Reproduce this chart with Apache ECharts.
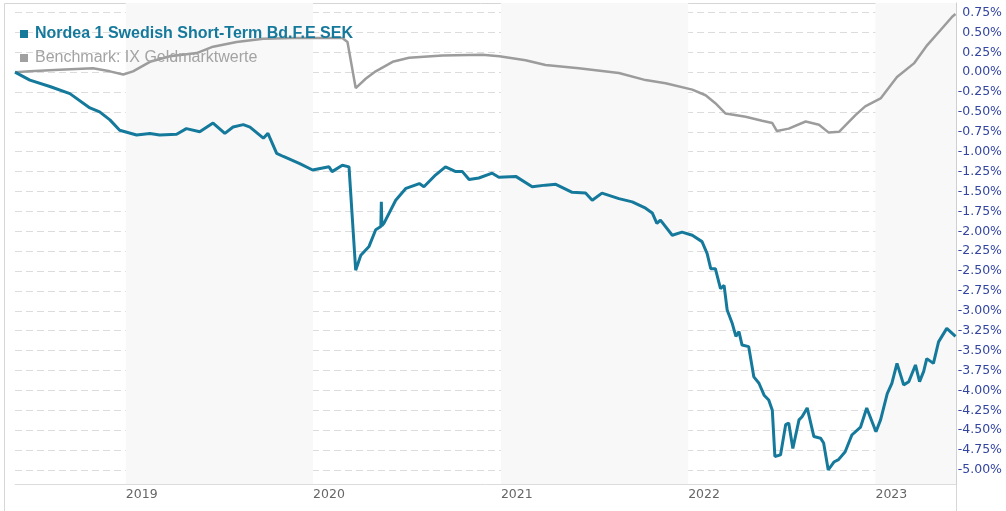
<!DOCTYPE html>
<html>
<head>
<meta charset="utf-8">
<style>
  html, body { margin: 0; padding: 0; background: #fff; }
  #chart { width: 1006px; height: 511px; }
</style>
<script src="https://cdn.jsdelivr.net/npm/echarts@6/dist/echarts.min.js"></script>
</head>
<body>
<div id="chart"></div>
<script>
// 数据（从图上读取，单位：%）
const fundName = 'Nordea 1 Swedish Short-Term Bd.F.E SEK';
const benchName = 'Benchmark: IX Geldmarktwerte';

const fundDates = [
    '2018-05-30', '2018-06-28', '2018-08-06', '2018-09-14', '2018-10-23', '2018-11-11', '2018-12-01', '2018-12-20',
    '2019-01-22', '2019-02-17', '2019-03-08', '2019-04-10', '2019-04-29', '2019-05-25', '2019-06-20', '2019-07-13', '2019-07-29', '2019-08-18', '2019-08-31', '2019-09-26', '2019-10-05', '2019-10-22', '2019-11-04', '2019-12-06', '2019-12-31',
    '2020-02-01', '2020-02-07', '2020-02-27', '2020-03-11', '2020-03-24', '2020-04-03', '2020-04-19', '2020-05-02', '2020-05-12', '2020-05-13', '2020-05-14', '2020-05-18', '2020-06-10', '2020-06-30', '2020-07-26', '2020-08-04', '2020-08-27', '2020-09-15', '2020-10-05', '2020-10-18', '2020-10-31', '2020-11-19', '2020-12-15', '2020-12-28',
    '2021-01-30', '2021-03-03', '2021-03-29', '2021-04-18', '2021-05-20', '2021-06-15', '2021-06-28', '2021-07-17', '2021-08-19', '2021-09-14', '2021-10-10', '2021-10-23', '2021-11-01', '2021-11-08', '2021-12-01', '2021-12-20',
    '2022-01-09', '2022-01-28', '2022-02-07', '2022-02-14', '2022-02-23', '2022-03-05', '2022-03-12', '2022-03-18', '2022-03-28', '2022-04-04', '2022-04-10', '2022-04-16', '2022-04-29', '2022-05-09', '2022-05-19', '2022-05-29', '2022-06-07', '2022-06-14', '2022-06-19', '2022-06-30', '2022-07-10', '2022-07-16', '2022-07-24', '2022-08-05', '2022-08-11', '2022-08-21', '2022-09-03', '2022-09-16', '2022-09-22', '2022-10-01', '2022-10-12', '2022-10-21', '2022-11-03', '2022-11-16', '2022-12-03', '2022-12-15',
    '2023-01-02', '2023-01-11', '2023-01-24', '2023-02-02', '2023-02-12', '2023-02-25', '2023-03-07', '2023-03-20', '2023-03-28', '2023-04-05', '2023-04-11', '2023-04-24', '2023-05-04', '2023-05-20', '2023-06-06'
];
const fundValues = [
    0, -0.10, -0.18, -0.27, -0.45, -0.50, -0.60, -0.73,
    -0.79, -0.77, -0.79, -0.78, -0.71, -0.75, -0.64, -0.77, -0.69, -0.66, -0.69, -0.83, -0.77, -1.02, -1.06, -1.15, -1.23,
    -1.19, -1.25, -1.17, -1.19, -2.49, -2.30, -2.19, -1.98, -1.94, -1.63, -1.93, -1.90, -1.61, -1.46, -1.40, -1.44, -1.29, -1.19, -1.25, -1.25, -1.35, -1.33, -1.27, -1.32,
    -1.31, -1.44, -1.42, -1.41, -1.51, -1.52, -1.61, -1.52, -1.59, -1.63, -1.71, -1.77, -1.90, -1.86, -2.05, -2.01,
    -2.05, -2.13, -2.28, -2.47, -2.47, -2.72, -2.68, -2.99, -3.16, -3.32, -3.26, -3.43, -3.45, -3.83, -3.91, -4.06, -4.12, -4.25, -4.83, -4.81, -4.43, -4.41, -4.73, -4.37, -4.33, -4.22, -4.58, -4.60, -4.66, -5.00, -4.90, -4.87, -4.77, -4.56, -4.46, -4.22,
    -4.52, -4.37, -4.04, -3.91, -3.66, -3.93, -3.89, -3.68, -3.89, -3.76, -3.60, -3.66, -3.39, -3.22, -3.32
];

const benchDates = [
    '2018-05-30', '2018-06-28', '2018-08-25', '2018-10-29', '2018-12-01', '2018-12-27',
    '2019-01-15', '2019-02-17', '2019-03-28', '2019-05-19', '2019-06-20', '2019-08-05', '2019-09-26', '2019-11-23',
    '2020-02-27', '2020-03-08', '2020-03-24', '2020-04-13', '2020-05-02', '2020-06-04', '2020-07-06', '2020-09-09', '2020-11-26', '2020-12-29',
    '2021-02-18', '2021-03-29', '2021-06-02', '2021-08-19', '2021-10-10', '2021-11-18',
    '2022-01-09', '2022-02-04', '2022-02-23', '2022-03-15', '2022-04-23', '2022-05-25', '2022-06-14', '2022-06-23', '2022-07-16', '2022-08-18', '2022-09-13', '2022-10-02', '2022-10-22', '2022-11-23', '2022-12-12',
    '2023-01-11', '2023-02-12', '2023-03-17', '2023-04-12', '2023-05-08', '2023-05-31', '2023-06-06'
];
const benchValues = [
    0, 0.01, 0.03, 0.05, 0.01, -0.03,
    0.01, 0.13, 0.20, 0.24, 0.32, 0.38, 0.42, 0.43,
    0.43, 0.38, -0.20, -0.08, 0.01, 0.13, 0.18, 0.21, 0.22, 0.20,
    0.15, 0.09, 0.05, -0.01, -0.10, -0.14,
    -0.22, -0.29, -0.39, -0.52, -0.56, -0.61, -0.64, -0.74, -0.71, -0.62, -0.66, -0.76, -0.75, -0.54, -0.43,
    -0.33, -0.06, 0.11, 0.34, 0.53, 0.70, 0.73
];

// 坐标轴刻度
const yTicks = [0.75, 0.5, 0.25, 0, -0.25, -0.5, -0.75, -1, -1.25, -1.5, -1.75, -2, -2.25, -2.5, -2.75, -3, -3.25, -3.5, -3.75, -4, -4.25, -4.5, -4.75, -5];
const yearTicks = ['2019-01-01', '2020-01-01', '2021-01-01', '2022-01-01', '2023-01-01'];
const yearBands = [['2019-01-01', '2020-01-01'], ['2021-01-01', '2022-01-01'], ['2023-01-01', '2023-06-07']];

function ts(d) {
    return +new Date(d + 'T00:00:00');
}

function initChart() {
    const fundColor = '#15799c';
    const benchColor = '#9c9c9c';
    const chart = echarts.init(document.getElementById('chart'));
    const option = {
        animation: false,
        grid: {
            left: 15,
            right: 50,
            top: 3,
            bottom: 27
        },
        graphic: [{
            type: 'rect',
            silent: true,
            shape: { x: 4.5, y: 3.5, width: 952, height: 520 },
            style: { fill: 'none', stroke: '#d6d6d6', lineWidth: 1 },
            z: -1
        }],
        legend: {
            orient: 'vertical',
            left: 20,
            top: 26,
            padding: 0,
            itemGap: 8,
            icon: 'rect',
            itemWidth: 8,
            itemHeight: 8,
            selectedMode: false,
            textStyle: { fontFamily: 'Liberation Sans, Arial', fontSize: 16, padding: [0, 0, 0, 2] },
            data: [
                { name: fundName, itemStyle: { color: fundColor }, textStyle: { color: fundColor, fontWeight: 'bold' } },
                { name: benchName, itemStyle: { color: '#a0a0a0' }, textStyle: { color: '#a3a3a3' } }
            ]
        },
        xAxis: {
            type: 'value',
            min: ts('2018-05-30'),
            max: ts('2023-06-07'),
            axisLine: { onZero: false, lineStyle: { color: '#dcdcdc' } },
            axisTick: { show: false },
            splitLine: { show: false },
            axisLabel: {
                customValues: yearTicks.map(ts),
                formatter: v => String(new Date(v).getFullYear()),
                align: 'left',
                margin: 4,
                color: '#666',
                fontFamily: 'DejaVu Sans, Verdana',
                fontSize: 12.5
            }
        },
        yAxis: {
            type: 'value',
            position: 'right',
            min: -5.176,
            max: 0.869,
            axisLine: { show: true, lineStyle: { color: '#d0d0d0' } },
            axisTick: { show: false, customValues: yTicks },
            splitLine: {
                show: true,
                lineStyle: { color: '#dcdcdc', type: [7, 4], width: 1 }
            },
            axisLabel: {
                customValues: yTicks,
                formatter: v => v.toFixed(2) + '%',
                align: 'right',
                margin: 46,
                color: '#3345a0',
                fontFamily: 'DejaVu Sans, Verdana',
                fontSize: 12.5
            }
        },
        series: [
            {
                name: benchName,
                type: 'line',
                symbol: 'none',
                lineStyle: { color: benchColor, width: 2.5 },
                itemStyle: { color: benchColor },
                data: benchDates.map((d, i) => [ts(d), benchValues[i]]),
                markArea: {
                    silent: true,
                    itemStyle: { color: '#f8f8f8' },
                    data: yearBands.map(b => [{ xAxis: ts(b[0]) }, { xAxis: ts(b[1]) }])
                },
                z: 2
            },
            {
                name: fundName,
                type: 'line',
                symbol: 'none',
                lineStyle: { color: fundColor, width: 3 },
                itemStyle: { color: fundColor },
                data: fundDates.map((d, i) => [ts(d), fundValues[i]]),
                z: 3
            }
        ]
    };
    chart.setOption(option);
}

document.addEventListener('DOMContentLoaded', initChart);
</script>
</body>
</html>
